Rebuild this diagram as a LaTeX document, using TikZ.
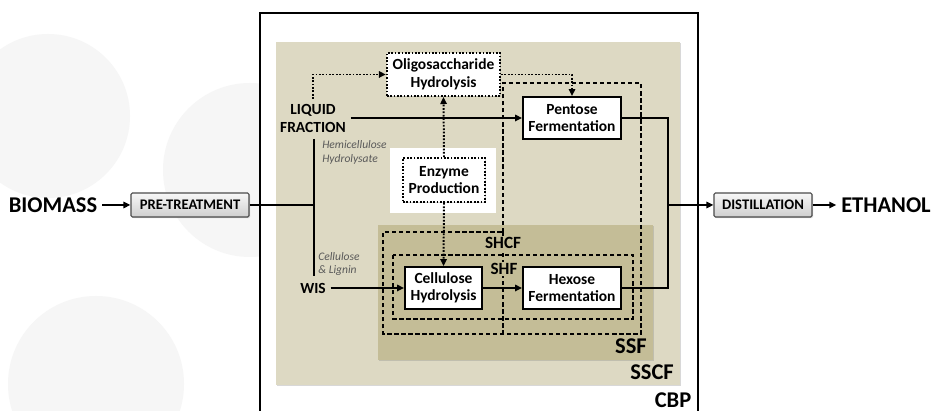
\documentclass[tikz,border=0pt]{standalone}
\usepackage{fontspec}
\setmainfont{Carlito}
\usepackage{tikz}
\usetikzlibrary{arrows.meta}
\usetikzlibrary{shadows}
\definecolor{sscfcol}{HTML}{DDD9C3}
\definecolor{ssfcol}{HTML}{C4BD97}
\definecolor{circcol}{HTML}{F6F6F6}
\definecolor{notecol}{HTML}{595959}
\tikzset{
  mainline/.style={line width=1.6pt},
  flow/.style={mainline,-{Triangle[length=5pt,width=4.5pt]}},
  dotline/.style={line width=1.4pt,dash pattern=on 1.2pt off 1.2pt},
  dotflow/.style={dotline,-{Triangle[length=5pt,width=4.5pt]}},
  zone/.style={line width=0.8pt,dash pattern=on 3pt off 2pt},
  softshadow/.style={drop shadow={shadow xshift=0.8pt,shadow yshift=-0.8pt,opacity=0.3}},
  procbox/.style={draw,fill=white,line width=1.2pt,softshadow,align=center,inner sep=1pt,
    font=\bfseries\fontsize{11}{12.5}\selectfont},
  dotbox/.style={procbox,dotline},
  greybox/.style={draw=black!70,line width=0.8pt,rounded corners=1pt,top color=gray!6,
    bottom color=gray!38,softshadow,minimum height=0.6cm,font=\bfseries\fontsize{10.4}{12}\selectfont},
  bigtext/.style={font=\bfseries\fontsize{16}{18}\selectfont},
  labeltext/.style={font=\bfseries\fontsize{11}{12.8}\selectfont,align=center},
  zonetext/.style={font=\bfseries\fontsize{12.2}{14}\selectfont,fill=ssfcol,inner sep=1pt},
  note/.style={font=\itshape\fontsize{8.2}{9.6}\selectfont,text=notecol,align=left,inner sep=0pt}
}

\begin{document}
\begin{tikzpicture}[x=0.025cm,y=-0.025cm]
    %RAMKA
    \clip (0,0) rectangle (935,411);
    \fill[white] (0,0) rectangle (935,411);
    %LINGKARAN LATAR
    \fill[circcol] (48,116) circle (82);
    \fill[circcol] (250,170) circle (87);
    \fill[circcol] (96,384) circle (88);
    %CBP
    \fill[white] (260,13) rectangle (698,420);
    \draw[line width=1pt] (260,420) -- (260,13) -- (698,13) -- (698,420);
    %SSCF DAN SSF
    \fill[sscfcol,softshadow] (276,42) rectangle (680,385);
    \fill[ssfcol,softshadow] (378,225) rectangle (653,360);
    \fill[white] (390,148) rectangle (496,213);
    %ZONA PUTUS-PUTUS
    \draw[zone] (503,232) -- (503,83) -- (641,83) -- (641,334) -- (383,334) -- (383,232) -- cycle;
    \draw[zone] (503,232) -- (503,334);
    \draw[zone] (393,255) rectangle (633,319);
    %LABEL ZONA
    \node[zonetext] (shcf) at (503,243) {SHCF};
    \node[zonetext] (shf) at (504,269) {SHF};
    \node[bigtext,inner sep=0pt] (ssf) at (631,346) {SSF};
    \node[bigtext,inner sep=0pt] (sscf) at (652,372) {SSCF};
    \node[bigtext,inner sep=0pt] (cbp) at (673,400) {CBP};
    %PROSES
    \node[dotbox,minimum width=2.83cm,minimum height=1.075cm] (oligo) at (443.5,74.5) {Oligosaccharide\\Hydrolysis};
    \node[procbox,minimum width=2.45cm,minimum height=1.05cm] (pentose) at (572,118) {Pentose\\Fermentation};
    \node[dotbox,minimum width=2.05cm,minimum height=1.1cm] (enzyme) at (444,180) {Enzyme\\Production};
    \node[procbox,minimum width=1.925cm,minimum height=1.05cm] (cellulose) at (443.5,288) {Cellulose\\Hydrolysis};
    \node[procbox,minimum width=2.45cm,minimum height=1.05cm] (hexose) at (572,288) {Hexose\\Fermentation};
    \node[greybox,minimum width=2.95cm] (pretreat) at (190,205) {PRE-TREATMENT};
    \node[greybox,minimum width=2.45cm] (distill) at (763,205) {DISTILLATION};
    %TEKS
    \node[bigtext] (biomass) at (53,205) {BIOMASS};
    \node[bigtext] (ethanol) at (886,205) {ETHANOL};
    \node[labeltext] (liquid) at (313,118) {LIQUID\\FRACTION};
    \node[labeltext] (wis) at (313,288) {WIS};
    \node[note,anchor=west] (hemi) at (322,152.5) {Hemicellulose\\Hydrolysate};
    \node[note,anchor=west] (lignin) at (318,264) {Cellulose\\\& Lignin};
    %KOORDINAT
    \coordinate (jl) at (314,205);
    \coordinate (jtop) at (314,139);
    \coordinate (jbot) at (314,276);
    \coordinate (jr) at (668,205);
    %ALIRAN
    \draw[flow] (biomass) -- (pretreat);
    \draw[mainline] (pretreat.east) -- (jl);
    \draw[mainline] (jtop) -- (jbot);
    \draw[flow] (liquid.east) -- (pentose.west);
    \draw[flow] (wis.east) -- (cellulose.west);
    \draw[flow] (cellulose) -- (hexose);
    \draw[mainline] (pentose.east) -| (jr) |- (hexose.east);
    \draw[flow] (jr) -- (distill.west);
    \draw[flow] (distill) -- (ethanol);
    %ALIRAN TITIK
    \draw[dotflow] (liquid.north) |- (oligo.west);
    \draw[dotflow] (oligo.east) -| (pentose.north);
    \draw[dotflow] (enzyme.north) -- (oligo.south);
    \draw[dotflow] (enzyme.south) -- (cellulose.north);
\end{tikzpicture}
\end{document}
